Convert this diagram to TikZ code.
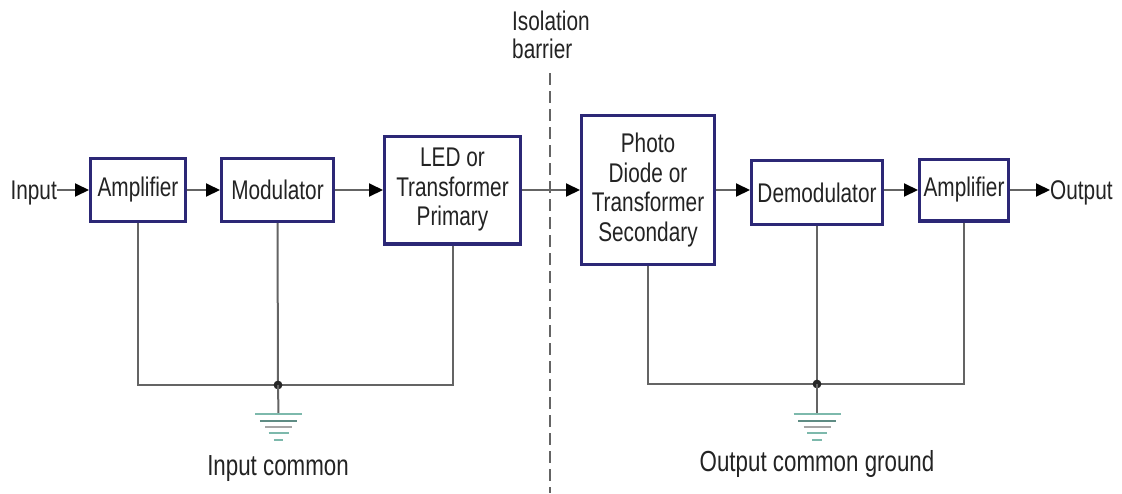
\documentclass[tikz,border=0pt]{standalone}
\usepackage{fontspec}
\setmainfont[FakeStretch=0.77]{Liberation Sans}
\usetikzlibrary{arrows.meta}
\definecolor{boxblue}{RGB}{44,40,118}
\definecolor{wiregray}{RGB}{100,100,100}
\definecolor{txt}{RGB}{35,35,35}
\definecolor{gndA}{RGB}{125,185,172}
\definecolor{gndB}{RGB}{95,140,132}
\definecolor{gndC}{RGB}{165,165,165}
\begin{document}
\begin{tikzpicture}[x=1pt,y=-1pt,
  blk/.style={draw=boxblue, line width=3.4pt, fill=white, align=center, inner sep=0pt, text=txt,
    font=\fontsize{27}{29.5}\selectfont},
  sig/.style={draw=wiregray, line width=2pt, -{Triangle[length=14pt,width=13pt,color=black]}},
  wire/.style={draw=wiregray, line width=2pt},
  lbl/.style={text=txt, inner sep=0pt, font=\fontsize{27}{28}\selectfont},
  biglbl/.style={text=txt, inner sep=0pt, font=\fontsize{29}{30}\selectfont},
  barrier/.style={draw=wiregray, line width=1.5pt, dash pattern=on 12pt off 6pt},
  gline/.style={line width=2.4pt}
]
\useasboundingbox[fill=white] (0,0) rectangle (1122,493);

% blocks
\node[blk, minimum width=94.6pt, minimum height=62.6pt] (amp1) at (138,190) {Amplifier};
\node[blk, minimum width=111.6pt, minimum height=62.6pt] (mod) at (277.5,190) {Modulator};
\node[blk, minimum width=135.6pt, minimum height=107.6pt] (led) at (452.5,190) {LED or\\Transformer\\Primary};
\node[blk, minimum width=132.6pt, minimum height=148.6pt] (pd) at (648,190) {Photo\\Diode or\\Transformer\\Secondary};
\node[blk, minimum width=130.6pt, minimum height=63.6pt] (dem) at (817,192.5) {Demodulator};
\node[blk, minimum width=88.6pt, minimum height=61.6pt] (amp2) at (964,190) {Amplifier};

% terminal labels
\node[lbl, anchor=base east] (in) at (57,199.5) {Input};
\node[lbl, anchor=base west] (out) at (1050,199.5) {Output};
\node[lbl, anchor=north west, align=left] (iso) at (512,10.5) {Isolation\\barrier};

% isolation barrier
\coordinate (bt) at (550,73);
\coordinate (bb) at (550,493);
\draw[barrier] (bt) -- (bb);

% signal path
\draw[sig] (in.east |- amp1) -- (amp1.west);
\draw[sig] (amp1.east) -- (mod.west);
\draw[sig] (mod.east) -- (led.west);
\draw[sig] (led.east) -- (pd.west);
\draw[sig] (pd.east) -- (pd.east -| dem.west);
\draw[sig] (pd.east -| dem.east) -- (amp2.west);
\draw[sig] (amp2.east) -- (amp2.east -| out.west);

% common returns
\coordinate (jL) at (278,385);
\coordinate (jR) at (817,384);
\coordinate (gL) at (278.5,414);
\coordinate (gR) at (817,414);
\draw[wire] (amp1.south) |- (jL);
\draw[wire] (led.south) |- (jL);
\draw[wire] (mod.south |- amp1.south) -- (jL);
\draw[wire] (pd.south) |- (jR);
\draw[wire] (amp2.south) |- (jR);
\draw[wire] (dem.south) -- (jR);
\fill[black!85] (jL) circle (4.4);
\fill[black!85] (jR) circle (4.4);
\draw[wire] (jL) -- (gL);
\draw[wire] (jR) -- (gR);
\foreach \g in {gL,gR}{
  \foreach \dy/\hw/\c in {0/23.5/gndA, 6.7/18.7/gndB, 12.7/13.5/gndC, 18.7/10/gndA, 26/4.7/gndA}{
    \draw[gline, draw=\c] ([xshift=-\hw pt, yshift=-\dy pt]\g) -- ([xshift=\hw pt, yshift=-\dy pt]\g);
  }
}

% bottom labels
\node[biglbl, anchor=base] (lblL) at (278,475) {Input common};
\node[biglbl, anchor=base] (lblR) at (817,471) {Output common ground};
\end{tikzpicture}
\end{document}
